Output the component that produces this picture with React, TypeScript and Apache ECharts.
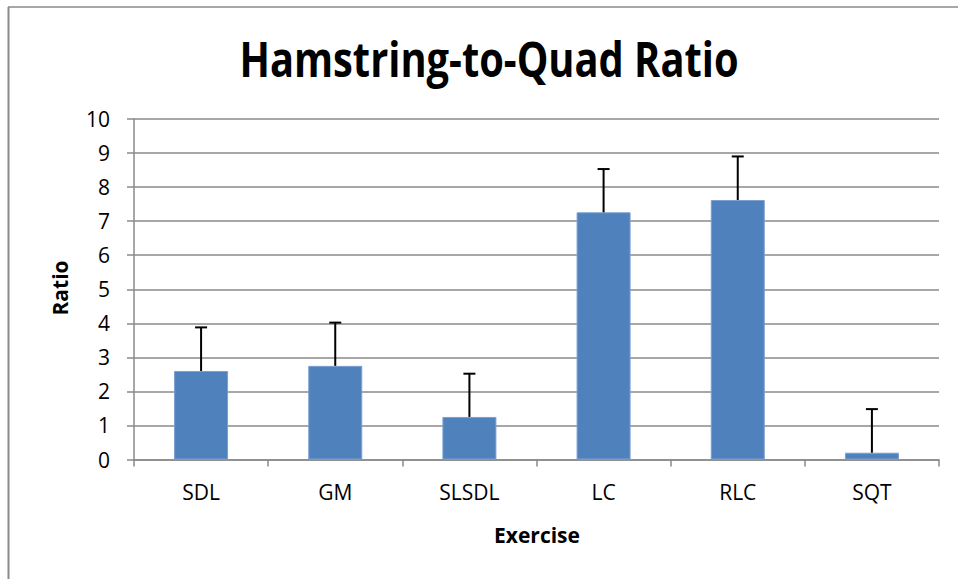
import React, { useEffect, useRef } from "react";
import * as echarts from "echarts";

const categories = ["SDL", "GM", "SLSDL", "LC", "RLC", "SQT"];
const ratios = [2.6, 2.75, 1.25, 7.26, 7.62, 0.2];
const errors = [1.28, 1.27, 1.27, 1.27, 1.28, 1.28];
const yTicks = { min: 0, max: 10, interval: 1 };

const FONT = "'Open Sans', sans-serif";

export default function App() {
  const ref = useRef<HTMLDivElement>(null);
  useEffect(() => {
    if (!ref.current) return;
    const chart = echarts.init(ref.current, null, { renderer: "svg" });
    const errData = ratios.map((v, i) => [i, v, v + errors[i]]);
    chart.setOption({
      animation: false,
      backgroundColor: "#ffffff",
      textStyle: { fontFamily: FONT },
      graphic: [
        { type: "line", shape: { x1: 8, y1: 7, x2: 958, y2: 7 }, style: { stroke: "#8a8a8a", lineWidth: 1.5 } },
        { type: "line", shape: { x1: 8.5, y1: 7, x2: 8.5, y2: 579 }, style: { stroke: "#8a8a8a", lineWidth: 2 } },
        {
          type: "text",
          x: 489,
          y: 59,
          scaleX: 0.83,
          style: { text: "Hamstring-to-Quad Ratio", font: `bold 48px ${FONT}`, fill: "#000", textAlign: "center", textVerticalAlign: "middle" },
        },
        {
          type: "text",
          x: 60,
          y: 288,
          rotation: Math.PI / 2,
          style: { text: "Ratio", font: `bold 21px ${FONT}`, fill: "#000", textAlign: "center", textVerticalAlign: "middle" },
        },
        {
          type: "text",
          x: 537,
          y: 535,
          style: { text: "Exercise", font: `bold 21px ${FONT}`, fill: "#000", textAlign: "center", textVerticalAlign: "middle" },
        },
      ],
      grid: { left: 134, right: 19, top: 119, bottom: 119.5, containLabel: false },
      xAxis: {
        type: "category",
        data: categories,
        axisLine: { lineStyle: { color: "#8a8a8a", width: 1.5 } },
        axisTick: { show: true, alignWithLabel: false, length: 7, lineStyle: { color: "#8a8a8a", width: 1.5 } },
        axisLabel: { fontFamily: FONT, fontSize: 21, color: "#000", margin: 22 },
      },
      yAxis: {
        type: "value",
        min: yTicks.min,
        max: yTicks.max,
        interval: yTicks.interval,
        axisLine: { show: true, lineStyle: { color: "#8a8a8a", width: 1.5 } },
        axisTick: { show: true, length: 7, lineStyle: { color: "#8a8a8a", width: 1.5 } },
        axisLabel: { fontFamily: FONT, fontSize: 21, color: "#000", margin: 24 },
        splitLine: { show: true, lineStyle: { color: "#8a8a8a", width: 1.5 } },
      },
      series: [
        {
          type: "bar",
          data: ratios,
          barWidth: 54,
          itemStyle: { color: "#4f81bd", borderColor: "#7aa0d0", borderWidth: 1 },
          z: 2,
        },
        {
          type: "custom",
          data: errData,
          z: 3,
          renderItem: (params: any, api: any) => {
            const x = api.value(0);
            const p0 = api.coord([x, api.value(1)]);
            const p1 = api.coord([x, api.value(2)]);
            const half = 6;
            return {
              type: "group",
              children: [
                { type: "line", shape: { x1: p0[0], y1: p0[1], x2: p1[0], y2: p1[1] }, style: { stroke: "#000", lineWidth: 2 } },
                { type: "line", shape: { x1: p1[0] - half, y1: p1[1], x2: p1[0] + half, y2: p1[1] }, style: { stroke: "#000", lineWidth: 2 } },
              ],
            };
          },
        },
      ],
    });
    return () => chart.dispose();
  }, []);
  return <div ref={ref} style={{ position: "fixed", left: 0, top: 0, width: 958, height: 579 }} />;
}
